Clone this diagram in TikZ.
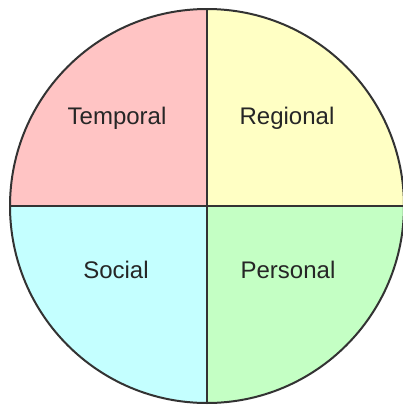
\documentclass[tikz,border=0pt]{standalone}
\usepackage{fontspec}
\setmainfont{Liberation Sans}
\usetikzlibrary{positioning}
\definecolor{tempcol}{HTML}{FFC4C4}
\definecolor{regcol}{HTML}{FFFFC4}
\definecolor{soccol}{HTML}{C4FFFF}
\definecolor{perscol}{HTML}{C4FFC4}
\tikzstyle{quad}=[draw=black!80, line width=2pt]
\tikzstyle{lbl}=[font=\fontsize{24}{27}\selectfont, text=black!85, inner sep=0]

\begin{document}
\begin{tikzpicture}[x=1pt, y=-1pt]
            \useasboundingbox (0,0) rectangle (403,407);
            \coordinate (c) at (207,206);
            % quadrants
            \begin{scope}
                \clip (c) rectangle (0,0);
                \fill[tempcol] (c) circle[radius=197];
            \end{scope}
            \begin{scope}
                \clip (c) rectangle (410,0);
                \fill[regcol] (c) circle[radius=197];
            \end{scope}
            \begin{scope}
                \clip (c) rectangle (0,410);
                \fill[soccol] (c) circle[radius=197];
            \end{scope}
            \begin{scope}
                \clip (c) rectangle (410,410);
                \fill[perscol] (c) circle[radius=197];
            \end{scope}
            \draw[quad] (c) circle[radius=197];
            \coordinate (n) at (207,9);
            \coordinate (s) at (207,403);
            \coordinate (w) at (10,206);
            \coordinate (e) at (404,206);
            \draw[quad] (n) -- (s);
            \draw[quad] (w) -- (e);
            % labels
            \node[lbl] (temporal) at (117,118) {Temporal};
            \node[lbl] (regional) at (287,118) {Regional};
            \node[lbl] (social) at (116,270) {Social};
            \node[lbl] (personal) at (288,270) {Personal};
        \end{tikzpicture}
\end{document}
